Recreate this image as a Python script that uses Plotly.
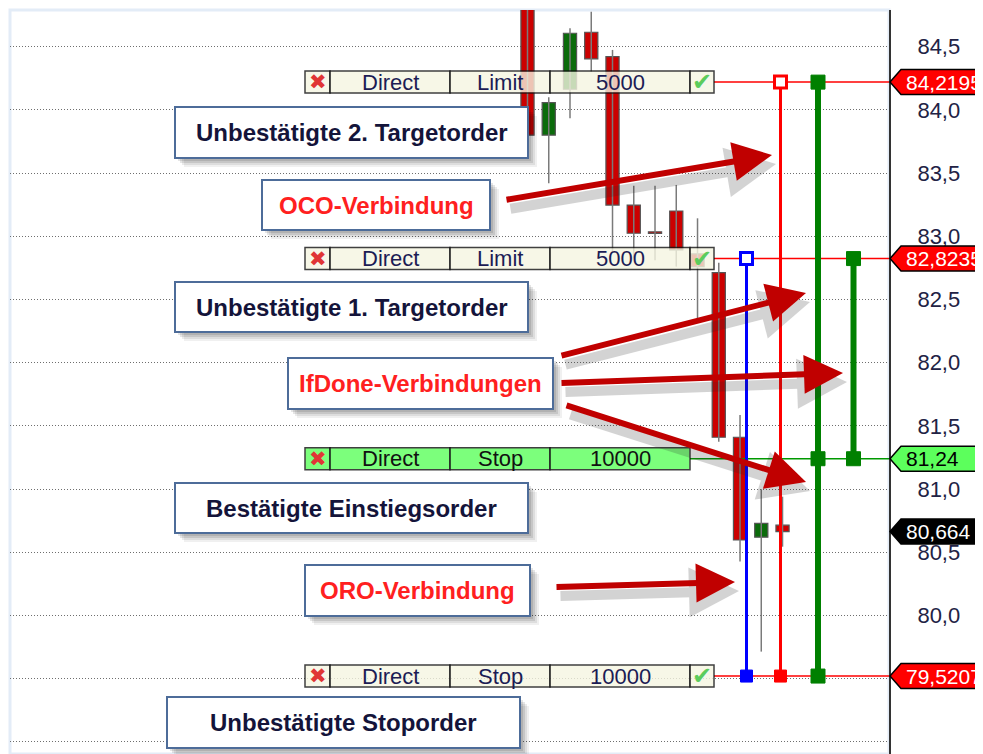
import plotly.graph_objects as go

# Kerzen (OHLC), von links nach rechts
candle_open = [85.20, 83.80, 84.163, 84.614, 84.421, 83.247, 83.035, 83.20, 82.86, 82.712, 81.41, 80.619, 80.714]
candle_high = [85.30, 84.10, 84.646, 84.777, 84.474, 83.40, 83.40, 83.406, 83.142, 82.791, 81.586, 80.998, 80.940]
candle_low = [83.80, 83.42, 83.934, 84.302, 82.87, 82.83, 82.81, 82.76, 82.351, 81.375, 80.426, 79.714, 80.544]
candle_close = [83.80, 84.057, 84.606, 84.403, 83.247, 83.024, 83.022, 82.892, 82.76, 81.41, 80.597, 80.729, 80.664]

# Orders
order_price = [84.2195, 82.8235, 81.24, 79.5207]
order_route = ["Direct", "Direct", "Direct", "Direct"]
order_type = ["Limit", "Limit", "Stop", "Stop"]
order_qty = ["5000", "5000", "10000", "10000"]
order_confirmed = [False, False, True, False]
last_price = 80.664

# Verbindungen zwischen Orders (Indizes in order_price)
link_orders = [[1, 3], [0, 3], [0, 2, 3], [1, 2]]
link_colors = ["#0000ff", "#ff0000", "#008000", "#008000"]

# Y-Achse
ytick_vals = [79.0, 79.5, 80.0, 80.5, 81.0, 81.5, 82.0, 82.5, 83.0, 83.5, 84.0, 84.5]
ytick_text = ["79,0", "79,5", "80,0", "80,5", "81,0", "81,5", "82,0", "82,5", "83,0", "83,5", "84,0", "84,5"]

# Beschriftungen
box_texts = ["Unbestätigte 2. Targetorder", "OCO-Verbindung", "Unbestätigte 1. Targetorder",
             "IfDone-Verbindungen", "Bestätigte Einstiegsorder", "ORO-Verbindung",
             "Unbestätigte Stoporder"]
box_is_link = [False, True, False, True, False, True, False]

# --- layout helpers (pixels of the page; the page body has an 8px margin) ---
PAGE_OFF = 8
FIG_W, FIG_H = 983 - PAGE_OFF, 754 - PAGE_OFF
L, R, T, B = 10, 889, 10, 754


def px(x):
    return (x - L) / (R - L)


def py(y):
    return (B - y) / (B - T)


box_px = [(175, 107, 528, 158), (262, 180, 490, 230), (175, 282, 528, 332),
          (288, 358, 553, 409), (175, 483, 528, 533), (305, 565, 530, 616),
          (167, 697, 520, 748)]
arrow_px = [((505, 200), (772, 155)), ((560, 356), (806, 293)), ((560, 383), (843, 373)),
            ((565, 405), (806, 482)), ((555, 587), (735, 582))]
cell_edges = [305, 330, 450, 550, 690, 714]
link_x = [746.5, 780.5, 818, 853.5]
link_w = [3, 3, 6, 6]

fig = go.Figure()

# Dochte
wx, wy = [], []
for i in range(len(candle_open)):
    wx += [i, i, None]
    wy += [candle_low[i], candle_high[i], None]
fig.add_trace(go.Scatter(x=wx, y=wy, mode="lines", line=dict(color="#7a7a7a", width=1.5),
                         hoverinfo="skip"))

# Kerzenkörper
fig.add_trace(go.Bar(
    x=list(range(len(candle_open))),
    base=[min(o, c) for o, c in zip(candle_open, candle_close)],
    y=[abs(c - o) for o, c in zip(candle_open, candle_close)],
    width=0.62,
    marker=dict(color=["#0b6b0b" if c > o else "#cc0000" for o, c in zip(candle_open, candle_close)],
                line=dict(color="#555555", width=1.2)),
    hoverinfo="skip"))

shapes = []
annotations = []

# light frame
shapes.append(dict(type="rect", xref="paper", yref="paper", x0=0, x1=1, y0=0, y1=1,
                   line=dict(color="#e3ecf7", width=3), layer="below"))

# Order-Leisten
for k, p in enumerate(order_price):
    fill = "#5cff5c" if order_confirmed[k] else "#f6f6e2"
    ncell = 4 if order_confirmed[k] else 5
    end_px = cell_edges[ncell]
    line_col = "#009900" if order_confirmed[k] else "#ff0000"
    shapes.append(dict(type="line", xref="paper", yref="y", x0=px(end_px), x1=1, y0=p, y1=p,
                       line=dict(color=line_col, width=1.5), layer="above"))
    for c in range(ncell):
        shapes.append(dict(type="rect", xref="paper", yref="y", ysizemode="pixel", yanchor=p,
                           x0=px(cell_edges[c]), x1=px(cell_edges[c + 1]), y0=-11, y1=11,
                           fillcolor=fill, opacity=0.8, line=dict(color="#111111", width=1.5),
                           layer="above"))
    txt_col = "#111111" if order_confirmed[k] else "#1c1c55"
    for c, t in zip([1, 2, 3], [order_route[k], order_type[k], order_qty[k]]):
        annotations.append(dict(xref="paper", yref="y", x=px((cell_edges[c] + cell_edges[c + 1]) / 2),
                                y=p, text=t, showarrow=False, xanchor="center", yanchor="middle",
                                font=dict(family="Liberation Sans", size=22, color=txt_col)))
    annotations.append(dict(xref="paper", yref="y", x=px(317.5), y=p, text="✖", showarrow=False,
                            xanchor="center", yanchor="middle",
                            font=dict(family="DejaVu Sans", size=21, color="#e03535")))
    if not order_confirmed[k]:
        annotations.append(dict(xref="paper", yref="y", x=px(702), y=p, text="✔", showarrow=False,
                                xanchor="center", yanchor="middle",
                                font=dict(family="DejaVu Sans", size=24, color="#5ccc5c")))

# Verbindungslinien
for j, members in enumerate(link_orders):
    ps = [order_price[m] for m in members]
    shapes.append(dict(type="line", xref="paper", yref="y", x0=px(link_x[j]), x1=px(link_x[j]),
                       y0=min(ps), y1=max(ps), line=dict(color=link_colors[j], width=link_w[j]),
                       layer="above"))
    for n, p in enumerate(ps):
        hollow = link_w[j] < 5 and n == 0
        s = 6 if link_w[j] < 5 else 7
        shapes.append(dict(type="rect", xref="paper", yref="y", xsizemode="pixel", ysizemode="pixel",
                           xanchor=px(link_x[j]), yanchor=p, x0=-s, x1=s, y0=-s, y1=s,
                           fillcolor="white" if hollow else link_colors[j],
                           line=dict(color=link_colors[j], width=3 if hollow else 1),
                           layer="above"))

# Preis-Markierungen rechts
tag_prices = order_price + [last_price]
tag_fill = ["#5cff5c" if c else "#ff0000" for c in order_confirmed] + ["#000000"]
tag_font = ["#000000" if c else "#ffffff" for c in order_confirmed] + ["#ffffff"]
for p, f, fc in zip(tag_prices, tag_fill, tag_font):
    shapes.append(dict(type="path", xref="paper", yref="y", xsizemode="pixel", ysizemode="pixel",
                       xanchor=1, yanchor=p,
                       path="M 1,0 L 12,12.5 L 110,12.5 L 110,-12.5 L 12,-12.5 Z",
                       fillcolor=f, line=dict(color="#000000", width=1.5), layer="above"))
    annotations.append(dict(xref="paper", yref="y", x=1, y=p, xanchor="left", yanchor="middle",
                            xshift=15, text=str(p).replace(".", ","), showarrow=False,
                            font=dict(family="Liberation Sans", size=21, color=fc)))

# Textkästen mit Schatten
for (x0, y0, x1, y1), t, is_link in zip(box_px, box_texts, box_is_link):
    for off, a in [(9, 0.06), (7, 0.08), (5, 0.1), (3, 0.1)]:
        shapes.append(dict(type="rect", xref="paper", yref="paper",
                           x0=px(x0 + off), x1=px(x1 + off), y0=py(y1 + off), y1=py(y0 + off),
                           fillcolor="rgba(0,0,0,%s)" % a, line=dict(width=0), layer="above"))
    shapes.append(dict(type="rect", xref="paper", yref="paper", x0=px(x0), x1=px(x1),
                       y0=py(y1), y1=py(y0), fillcolor="white",
                       line=dict(color="#4d6c99", width=2), layer="above"))
    annotations.append(dict(xref="paper", yref="paper", x=px((x0 + x1) / 2), y=py((y0 + y1) / 2),
                            xanchor="center", yanchor="middle", text=t, showarrow=False,
                            font=dict(family="Liberation Sans", size=24, weight="bold",
                                      color="#ff2020" if is_link else "#14143a")))

# Pfeile
for (tail, tip) in arrow_px:
    for col, w, xs, ys in [("rgba(40,40,40,0.2)", 10, 4, -9), ("#c00000", 6, 0, 0)]:
        annotations.append(dict(xref="paper", yref="paper", x=px(tip[0]), y=py(tip[1]),
                                ax=tail[0] - tip[0], ay=tail[1] - tip[1], text="",
                                showarrow=True, arrowhead=2, arrowsize=1.3 if w == 6 else 1.0,
                                arrowwidth=w, arrowcolor=col, xshift=xs, yshift=ys))

fig.update_layout(
    width=FIG_W, height=FIG_H,
    margin=dict(l=L - PAGE_OFF, r=FIG_W + PAGE_OFF - R, t=T - PAGE_OFF, b=FIG_H + PAGE_OFF - B),
    paper_bgcolor="white", plot_bgcolor="white",
    showlegend=False,
    shapes=shapes, annotations=annotations,
    xaxis=dict(range=[-24.35, 17.01], visible=False, fixedrange=True),
    yaxis=dict(range=[78.904, 84.790], side="right", tickvals=ytick_vals, ticktext=ytick_text,
               showgrid=True, gridcolor="#6e6e6e", gridwidth=1, griddash="1px,2px",
               showline=True, linecolor="#333333", linewidth=2, ticks="", zeroline=False,
               ticklabelstandoff=22, fixedrange=True,
               tickfont=dict(family="Liberation Sans", size=22, color="#222244")),
)

fig.write_html("out.html")
